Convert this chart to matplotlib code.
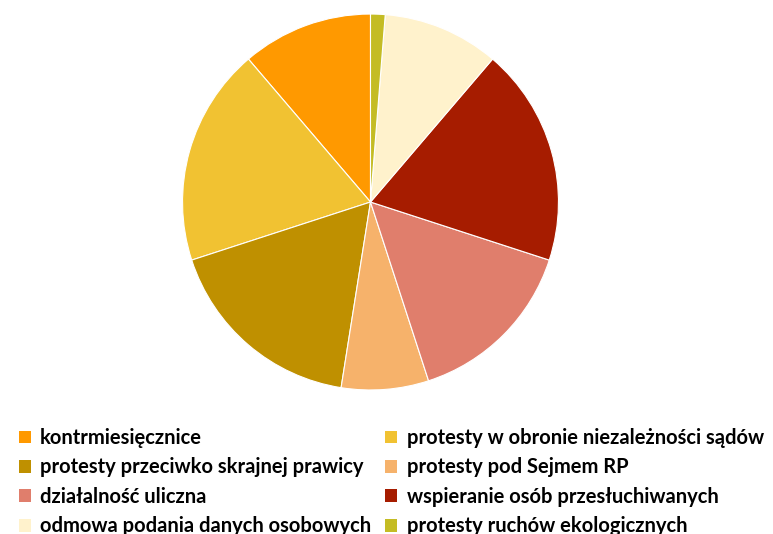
import matplotlib
matplotlib.use("Agg")
import matplotlib.pyplot as plt
from matplotlib.patches import Patch

labels = [
    "kontrmiesięcznice",
    "protesty w obronie niezależności sądów",
    "protesty przeciwko skrajnej prawicy",
    "protesty pod Sejmem RP",
    "działalność uliczna",
    "wspieranie osób przesłuchiwanych",
    "odmowa podania danych osobowych",
    "protesty ruchów ekologicznych",
]
values = [9, 15, 14, 6, 12, 15, 8, 1]
colors = ["#FF9900", "#F1C232", "#BF9000", "#F6B26B",
          "#E07E6C", "#A61C00", "#FFF2CC", "#C4BC24"]

fig = plt.figure(figsize=(7.73, 5.34), dpi=100)
ax = fig.add_axes([0.2361, 0.2697, 0.4864, 0.704])
ax.pie(values, colors=colors, startangle=90, counterclock=True,
       wedgeprops=dict(edgecolor="white", linewidth=0.8))
ax.set_xlim(-1.0, 1.0)
ax.set_ylim(-1.0, 1.0)
ax.set_aspect("equal")

# legend fills row by row, like the original
order = [0, 2, 4, 6, 1, 3, 5, 7]
handles = [Patch(facecolor=colors[i], edgecolor="none") for i in order]
fig.legend(handles, [labels[i] for i in order], ncol=2,
           loc="upper left", bbox_to_anchor=(19 / 773, 1 - 428 / 534),
           frameon=False, borderpad=0, borderaxespad=0,
           prop=dict(family="Lato", weight="bold", size=14.5),
           handlelength=0.6, handleheight=0.6, handletextpad=0.45,
           labelspacing=0.47, columnspacing=0.7)

fig.savefig("out.png", dpi=100)
